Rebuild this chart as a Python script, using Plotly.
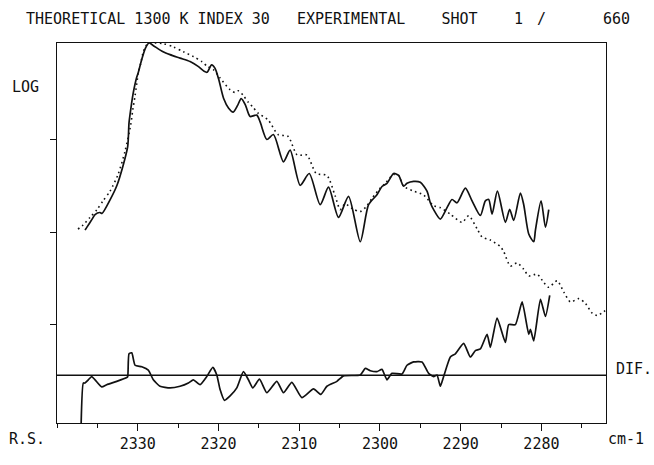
import plotly.graph_objects as go

# ---------------- data (wavenumber cm-1, LOG units) ----------------
exp_wn = [2336.53, 2336.29, 2335.67, 2335.29, 2334.67, 2334.43, 2333.43, 2332.57, 2331.82, 2331.24,
          2331.08, 2330.83, 2330.55, 2330.12, 2329.96, 2329.47, 2329.03, 2328.60, 2328.10, 2326.86,
          2326.00, 2324.76, 2323.52, 2322.52, 2321.78, 2321.41, 2320.85, 2320.42, 2319.98, 2319.36,
          2318.74, 2318.18, 2317.63, 2317.19, 2316.70, 2316.26, 2316.08, 2315.25, 2314.84, 2314.01,
          2313.19, 2311.95, 2311.12, 2309.88, 2308.76, 2307.40, 2306.37, 2305.13, 2303.89, 2302.44,
          2301.41, 2300.37, 2299.75, 2299.13, 2298.31, 2297.69, 2297.07, 2296.65, 2295.83, 2295.00,
          2294.17, 2293.76, 2293.35, 2292.52, 2291.69, 2291.07, 2290.45, 2289.42, 2288.59, 2287.56,
          2286.94, 2286.53, 2286.11, 2285.45, 2284.46, 2283.93, 2283.43, 2282.60, 2282.19, 2281.57,
          2280.95, 2280.74, 2280.04, 2279.50, 2279.09]
exp_log = [2.021, 2.053, 2.137, 2.189, 2.211, 2.200, 2.347, 2.505, 2.716, 2.926,
           3.179, 3.347, 3.505, 3.674, 3.716, 3.874, 3.989, 4.042, 4.016, 3.947,
           3.916, 3.879, 3.842, 3.789, 3.737, 3.726, 3.805, 3.768, 3.653, 3.442,
           3.337, 3.295, 3.368, 3.442, 3.379, 3.274, 3.247, 3.263, 3.189, 3.000,
           3.053, 2.758, 2.884, 2.505, 2.632, 2.295, 2.484, 2.158, 2.386, 1.895,
           2.295, 2.403, 2.492, 2.526, 2.632, 2.611, 2.495, 2.526, 2.547, 2.537,
           2.442, 2.316, 2.242, 2.140, 2.263, 2.351, 2.316, 2.474, 2.337, 2.179,
           2.337, 2.351, 2.193, 2.442, 2.105, 2.245, 2.126, 2.421, 2.295, 1.979,
           1.895, 2.021, 2.337, 2.053, 2.242]

theo_wn = [2337.40, 2336.78, 2335.91, 2335.05, 2334.30, 2333.43, 2332.44, 2331.57, 2330.87, 2330.62,
           2330.33, 2329.93, 2329.63, 2329.31, 2328.88, 2328.26, 2326.83, 2325.59, 2324.35, 2323.11,
           2322.07, 2321.37, 2320.63, 2319.80, 2318.56, 2317.94, 2317.53, 2316.91, 2316.29, 2315.71,
           2315.09, 2313.85, 2312.61, 2311.37, 2310.25, 2309.05, 2307.89, 2306.57, 2305.54, 2304.92,
           2304.30, 2303.43, 2302.44, 2301.70, 2300.95, 2299.96, 2299.34, 2298.31, 2297.69, 2297.07,
           2295.83, 2294.59, 2293.35, 2292.52, 2291.28, 2289.83, 2289.01, 2287.97, 2287.35, 2286.32,
           2285.08, 2284.67, 2283.84, 2283.01, 2282.19, 2281.57, 2280.53, 2279.71, 2279.09, 2278.05,
           2277.23, 2276.40, 2275.37, 2274.54, 2273.71, 2273.09, 2272.27, 2272.00]
theo_log = [2.032, 2.074, 2.158, 2.242, 2.337, 2.442, 2.621, 2.874, 3.158, 3.316,
            3.474, 3.716, 3.821, 3.947, 4.021, 4.042, 4.035, 4.000, 3.947, 3.895,
            3.842, 3.789, 3.755, 3.663, 3.537, 3.508, 3.526, 3.474, 3.400, 3.347,
            3.284, 3.211, 3.053, 3.032, 2.832, 2.832, 2.632, 2.611, 2.389, 2.242,
            2.305, 2.253, 2.221, 2.274, 2.368, 2.474, 2.526, 2.621, 2.611, 2.495,
            2.442, 2.400, 2.284, 2.263, 2.193, 2.105, 2.176, 2.035, 1.947, 1.913,
            1.842, 1.789, 1.632, 1.666, 1.597, 1.526, 1.544, 1.456, 1.403, 1.474,
            1.351, 1.245, 1.281, 1.228, 1.123, 1.098, 1.140, 1.158]

dif_wn = [2337.03, 2336.74, 2336.53, 2336.12, 2335.70, 2335.29, 2334.46, 2333.84, 2332.60, 2331.36,
          2331.24, 2331.08, 2330.74, 2330.33, 2329.50, 2328.69, 2328.07, 2327.24, 2326.00, 2324.76,
          2323.73, 2323.11, 2322.28, 2321.45, 2320.70, 2320.21, 2319.80, 2319.26, 2318.56, 2317.73,
          2316.91, 2316.29, 2315.74, 2314.92, 2314.01, 2312.77, 2311.95, 2310.91, 2309.67, 2308.23,
          2307.31, 2306.57, 2305.33, 2304.51, 2302.44, 2301.82, 2301.20, 2300.37, 2299.75, 2299.13,
          2298.51, 2297.27, 2296.65, 2295.83, 2294.79, 2293.97, 2293.35, 2292.93, 2292.52, 2292.11,
          2291.28, 2290.66, 2289.63, 2288.80, 2288.18, 2287.56, 2286.73, 2286.32, 2285.49, 2284.46,
          2284.05, 2283.22, 2282.39, 2281.57, 2281.36, 2280.95, 2280.12, 2279.50, 2278.97]
dif_val = [-0.60, -0.084, -0.084, -0.049, -0.014, -0.049, -0.126, -0.102, -0.066, -0.024,
           -0.014, 0.232, 0.242, 0.108, 0.092, 0.056, -0.049, -0.119, -0.137, -0.119,
           -0.084, -0.049, -0.102, -0.014, 0.084, 0.003, -0.155, -0.271, -0.224, -0.137,
           0.039, -0.049, -0.137, -0.042, -0.189, -0.066, -0.189, -0.077, -0.242, -0.147,
           -0.207, -0.119, -0.066, -0.007, 0.003, 0.074, 0.049, 0.039, 0.063, -0.049,
           0.021, 0.014, 0.108, 0.144, 0.144, 0.021, -0.014, 0.003, -0.119, -0.014,
           0.197, 0.232, 0.344, 0.197, 0.266, 0.284, 0.442, 0.302, 0.618, 0.355,
           0.547, 0.547, 0.793, 0.442, 0.495, 0.372, 0.821, 0.635, 0.863]

x_ticks = [2330, 2320, 2310, 2300, 2290, 2280]
x_tick_labels = ["2330", "2320", "2310", "2300", "2290", "2280"]
log_ticks = [1, 2, 3]

# ---------------- figure ----------------
W, H = 654, 465
L, R, T, B = 57, 48, 43, 25
FONT = "DejaVu Sans Mono"
INK = "#111111"


def px(xp):
    return (xp - L) / (W - L - R)


def py(yp):
    return (H - B - yp) / (H - T - B)


fig = go.Figure()
fig.add_trace(go.Scatter(x=theo_wn, y=theo_log, mode="lines",
                         line=dict(color=INK, width=1.6, dash="1.6px,3.4px", shape="spline", smoothing=0.7),
                         hoverinfo="skip", showlegend=False))
fig.add_trace(go.Scatter(x=exp_wn, y=exp_log, mode="lines",
                         line=dict(color=INK, width=1.7, shape="spline", smoothing=0.7),
                         hoverinfo="skip", showlegend=False))
fig.add_trace(go.Scatter(x=dif_wn, y=dif_val, mode="lines", yaxis="y2",
                         line=dict(color=INK, width=1.7, shape="spline", smoothing=0.5),
                         hoverinfo="skip", showlegend=False))

fig.add_shape(type="line", xref="paper", yref="y2", x0=0, x1=1, y0=0, y1=0,
              line=dict(color=INK, width=1.3))

ann = []


def text(s, xp, yp, xanchor="center"):
    ann.append(dict(text=s, xref="paper", yref="paper", x=px(xp), y=py(yp),
                    xanchor=xanchor, yanchor="middle", showarrow=False,
                    font=dict(family=FONT, size=15, color=INK)))


text("THEORETICAL 1300 K INDEX 30   EXPERIMENTAL    SHOT", 24, 17.5, "left")
text("1", 518, 17.5)
text("/", 541, 17.5)
text("660", 616, 17.5)
text("LOG", 25, 89)
text("DIF.", 614, 384, "left")
text("R.S.", 27, 457)
text("cm-1", 626, 457)

fig.update_layout(
    width=W, height=H,
    margin=dict(l=L, r=R, t=T, b=B, pad=0),
    paper_bgcolor="white", plot_bgcolor="white",
    annotations=ann,
    xaxis=dict(range=[2340, 2272], tickvals=x_ticks, ticktext=x_tick_labels,
               ticks="outside", ticklen=7, tickwidth=1.2, tickcolor=INK,
               minor=dict(dtick=5, tick0=2270, ticks="outside", ticklen=4, tickwidth=1.2, tickcolor=INK),
               showline=True, linecolor=INK, linewidth=1.3, mirror=True,
               showgrid=False, zeroline=False,
               tickfont=dict(family=FONT, size=15, color=INK)),
    yaxis=dict(range=[-0.063, 4.042], tickvals=log_ticks, showticklabels=False,
               ticks="outside", ticklen=6, tickwidth=1.2, tickcolor=INK,
               showline=True, linecolor=INK, linewidth=1.3, mirror=True,
               showgrid=False, zeroline=False),
    yaxis2=dict(range=[-0.516, 3.590], overlaying="y", visible=False,
                showgrid=False, zeroline=False),
)

fig.write_html("out.html", config={"displayModeBar": False},
               post_script="document.body.style.margin='0';document.body.style.overflow='hidden';")
